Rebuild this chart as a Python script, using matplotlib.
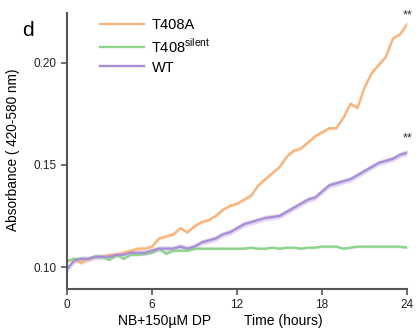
import numpy as np
import matplotlib
matplotlib.use("Agg")
import matplotlib.pyplot as plt

plt.rcParams['font.family'] = ['Liberation Sans', 'DejaVu Sans']

hours = np.arange(0, 24.01, 0.5)

t408a = [0.103, 0.104, 0.102, 0.104, 0.105, 0.105, 0.106, 0.106, 0.107, 0.108,
         0.109, 0.109, 0.110, 0.114, 0.115, 0.116, 0.119, 0.117, 0.120, 0.122,
         0.123, 0.125, 0.128, 0.130, 0.131, 0.133, 0.135, 0.140, 0.143, 0.146,
         0.149, 0.154, 0.157, 0.158, 0.161, 0.164, 0.166, 0.168, 0.168, 0.173,
         0.180, 0.178, 0.188, 0.195, 0.199, 0.203, 0.212, 0.214, 0.219]

t408_silent = [0.103, 0.104, 0.104, 0.104, 0.105, 0.105, 0.1035, 0.106, 0.104, 0.106,
               0.106, 0.1065, 0.107, 0.109, 0.1065, 0.108, 0.108, 0.108, 0.109, 0.109,
               0.109, 0.109, 0.109, 0.109, 0.109, 0.109, 0.1095, 0.109, 0.109, 0.1095,
               0.109, 0.1095, 0.1095, 0.109, 0.1095, 0.1095, 0.110, 0.110, 0.110, 0.109,
               0.1095, 0.110, 0.110, 0.110, 0.110, 0.110, 0.110, 0.110, 0.1095]

wt = [0.099, 0.103, 0.104, 0.104, 0.105, 0.105, 0.105, 0.106, 0.106, 0.107,
      0.107, 0.107, 0.108, 0.109, 0.109, 0.109, 0.110, 0.109, 0.110, 0.112,
      0.113, 0.114, 0.116, 0.117, 0.119, 0.121, 0.122, 0.123, 0.124, 0.1245,
      0.125, 0.127, 0.129, 0.131, 0.133, 0.134, 0.137, 0.140, 0.141, 0.142,
      0.143, 0.145, 0.147, 0.149, 0.151, 0.152, 0.153, 0.155, 0.156]

sem = {"T408A": 0.0008, "T408silent": 0.0006, "WT": 0.0014}

series = [
    ("T408A", "T408A", t408a, "#F8B47C"),
    ("T408silent", "T408$^{\\mathregular{silent}}$", t408_silent, "#8ED38B"),
    ("WT", "WT", wt, "#A98FD5"),
]

fig = plt.figure(figsize=(4.18, 3.30), dpi=100)
ax = fig.add_axes([0.160, 0.124, 0.814, 0.837])

for key, label, vals, col in series:
    v = np.array(vals)
    ax.fill_between(hours, v - sem[key], v + sem[key], color=col, alpha=0.35, lw=0)
    ax.plot(hours, v, color=col, lw=1.7, label=label)

ax.set_xlim(0, 24)
ax.set_ylim(0.0892, 0.2245)
ax.set_xticks([0, 6, 12, 18, 24])
ax.set_yticks([0.10, 0.15, 0.20])
ax.set_yticklabels(["0.10", "0.15", "0.20"])
for s in ["top", "right"]:
    ax.spines[s].set_visible(False)
for s in ["left", "bottom"]:
    ax.spines[s].set_color("#555555")
    ax.spines[s].set_linewidth(1.5)
ax.tick_params(labelsize=8.5, length=4, width=1.2, colors="#555555", labelcolor="#222222")

ax.set_ylabel("Absorbance ( 420-580 nm)", fontsize=9.8)
ax.yaxis.set_label_coords(-0.138, 0.504)

ax.text(24, wt[-1] + 0.004, "**", ha="center", va="bottom", fontsize=9, color="#333333")
ax.text(24, t408a[-1] + 0.0015, "**", ha="center", va="bottom", fontsize=9, color="#333333")

ax.legend(frameon=False, loc="upper left", bbox_to_anchor=(0.06, 1.03),
          handlelength=3.0, labelspacing=0.35, fontsize=10.5, handletextpad=0.5)

fig.text(22 / 418, 1 - 30 / 330, "d", fontsize=15, ha="left", va="center")
fig.text(165 / 418, 1 - 321 / 330, "NB+150µM DP", fontsize=10, ha="center", va="center")
fig.text(283 / 418, 1 - 321 / 330, "Time (hours)", fontsize=10, ha="center", va="center")
fig.text(22 / 418, 1 - 327 / 330, "e", fontsize=15, ha="center", va="top")

fig.savefig("out.png", dpi=100)
